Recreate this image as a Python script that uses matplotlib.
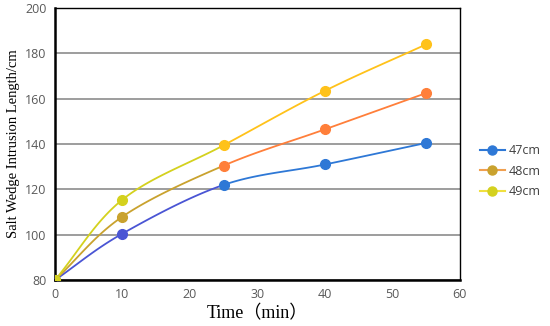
import numpy as np
import matplotlib
matplotlib.use("Agg")
import matplotlib.pyplot as plt
from matplotlib.lines import Line2D

time = [0, 10, 25, 40, 55]
s47 = [80, 100.5, 122, 131, 140.5]
s48 = [80, 108, 130.5, 146.5, 162.5]
s49 = [80, 115.5, 139.5, 163.5, 184]
labels = ["47cm", "48cm", "49cm"]

# colours drift along each line in the original (early part / later part)
early = ["#4A55D4", "#C9A22E", "#D4D11E"]
late = ["#2E78D6", "#FF7F3A", "#FFC21A"]
legend_cols = ["#2E78D6", "#C9A22E", "#D4D11E"]
legend_line = ["#2E78D6", "#F0A050", "#F0E040"]


def smooth(xs, ys, n=30):
    # Catmull-Rom style curve through the points, like excel smoothed lines
    xs = np.asarray(xs, float)
    ys = np.asarray(ys, float)
    px = np.concatenate([[2 * xs[0] - xs[1]], xs, [2 * xs[-1] - xs[-2]]])
    py = np.concatenate([[2 * ys[0] - ys[1]], ys, [2 * ys[-1] - ys[-2]]])
    segs = []
    t = np.linspace(0, 1, n)
    for i in range(1, len(px) - 2):
        def cr(p):
            p0, p1, p2, p3 = p[i - 1], p[i], p[i + 1], p[i + 2]
            return 0.5 * ((2 * p1) + (-p0 + p2) * t + (2 * p0 - 5 * p1 + 4 * p2 - p3) * t ** 2
                          + (-p0 + 3 * p1 - 3 * p2 + p3) * t ** 3)
        segs.append((cr(px), cr(py)))
    return segs


fig = plt.figure(figsize=(5.5, 3.26), dpi=100)
ax = fig.add_axes([0.1, 0.141, 0.736, 0.834])

for k, ys in enumerate([s47, s48, s49]):
    segs = smooth(time, ys)
    for i, (sx, sy) in enumerate(segs):
        c = early[k] if i < 2 else late[k]
        ax.plot(sx, sy, color=c, lw=1.3, zorder=3 + k, solid_capstyle="round")
    for i, (x, y) in enumerate(zip(time, ys)):
        c = early[k] if i < 2 else late[k]
        ax.plot(x, y, "o", color=c, ms=7, zorder=6 + k)

ax.set_xlim(0, 60)
ax.set_ylim(80, 200)
ax.set_xticks(range(0, 61, 10))
ax.set_yticks(range(80, 201, 20))
ax.yaxis.grid(True, color="#8c8c8c", lw=1.2)
ax.set_axisbelow(True)
for s in ax.spines.values():
    s.set_color("black")
    s.set_linewidth(1.0)
ax.spines["left"].set_linewidth(1.8)
ax.spines["bottom"].set_linewidth(1.8)
ax.tick_params(length=0, labelsize=9, colors="#595959", pad=6)
for lab in ax.get_xticklabels() + ax.get_yticklabels():
    lab.set_family("Open Sans")

ax.set_ylabel("Salt Wedge Intrusion Length/cm", family="Liberation Serif", fontsize=10.5, labelpad=4)
ax.set_xlabel("Time（min）", family=["Liberation Serif", "Noto Sans CJK SC"], fontsize=13, labelpad=3)

handles = [Line2D([0], [0], color=legend_line[k], marker="o", ms=6.5, mfc=legend_cols[k], mec=legend_cols[k], lw=1.5)
           for k in range(3)]
fig.legend(handles, labels, loc="center left", bbox_to_anchor=(0.872, 0.475), frameon=False,
           prop={"family": "Open Sans", "size": 9}, labelspacing=0.6, handlelength=2.0, handletextpad=0.3,
           borderpad=0, borderaxespad=0, labelcolor="#404040")

fig.savefig("out.png", dpi=100)
